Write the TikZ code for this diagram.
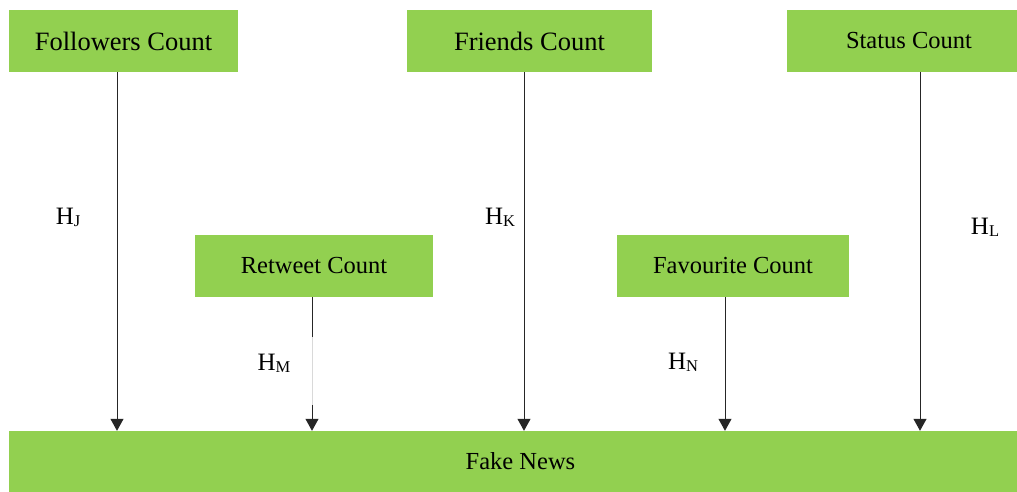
\documentclass[tikz,border=0pt]{standalone}
\usepackage{fontspec}
\setmainfont{Liberation Serif}
\usetikzlibrary{arrows.meta,positioning}

\definecolor{boxgreen}{RGB}{146,208,80}
\newcommand{\hlabel}[1]{H\raisebox{-0.08em}{\fontsize{16.5}{16.5}\selectfont #1}}

\tikzset{
  featbox/.style={fill=boxgreen,draw=none,inner sep=0pt,minimum height=62pt,font=\fontsize{24.5}{28}\selectfont},
  arr/.style={draw=black!85,line width=1pt,-{Triangle[width=13pt,length=12pt]}},
  hlab/.style={inner sep=0pt,font=\fontsize{25}{28}\selectfont}
}

\begin{document}
\begin{tikzpicture}[x=1pt,y=1pt]
  \useasboundingbox (0,0) rectangle (1017,492);
  % top row
  \node[featbox,minimum width=229pt,font=\fontsize{26.5}{30}\selectfont] (fol) at (123.5,451) {\raisebox{-2pt}{Followers Count}};
  \node[featbox,minimum width=245pt,font=\fontsize{26.5}{30}\selectfont] (fri) at (529.5,451) {\raisebox{-2pt}{Friends Count}};
  \node[featbox,minimum width=230pt] (sta) at (902,451) {\hspace{14pt}Status Count};
  % middle row
  \node[featbox,minimum width=238pt] (ret) at (314,226) {Retweet Count};
  \node[featbox,minimum width=232pt] (fav) at (733,226) {Favourite Count};
  % target
  \node[featbox,minimum width=1008pt,minimum height=61pt] (fake) at (513,30.5) {\hspace{15pt}Fake News};
  % connectors
  \draw[arr] ([xshift=-6.5pt]fol.south) -- ([xshift=-6.5pt]fol.south |- fake.north);
  \draw[arr] ([xshift=-5.5pt]fri.south) -- ([xshift=-5.5pt]fri.south |- fake.north);
  \draw[arr] ([xshift=18pt]sta.south) -- ([xshift=18pt]sta.south |- fake.north);
  \draw[arr] ([xshift=-8pt]fav.south) -- ([xshift=-8pt]fav.south |- fake.north);
  \coordinate (gaptop) at ([xshift=-2pt,yshift=-40pt]ret.south);
  \coordinate (gapbot) at (gaptop |- 0,87);
  \draw[black!85,line width=1pt] ([xshift=-2pt]ret.south) -- (gaptop);
  \draw[black!15,line width=1pt] (gaptop) -- (gapbot);
  \draw[arr] (gapbot) -- (gapbot |- fake.north);
  % labels
  \node[hlab] (hj) at (68,275) {\hlabel{J}};
  \node[hlab] (hk) at (500,275) {\hlabel{K}};
  \node[hlab] (hl) at (985,265) {\hlabel{L}};
  \node[hlab] (hm) at (274,129) {\hlabel{M}};
  \node[hlab] (hn) at (683,130) {\hlabel{N}};
\end{tikzpicture}
\end{document}
